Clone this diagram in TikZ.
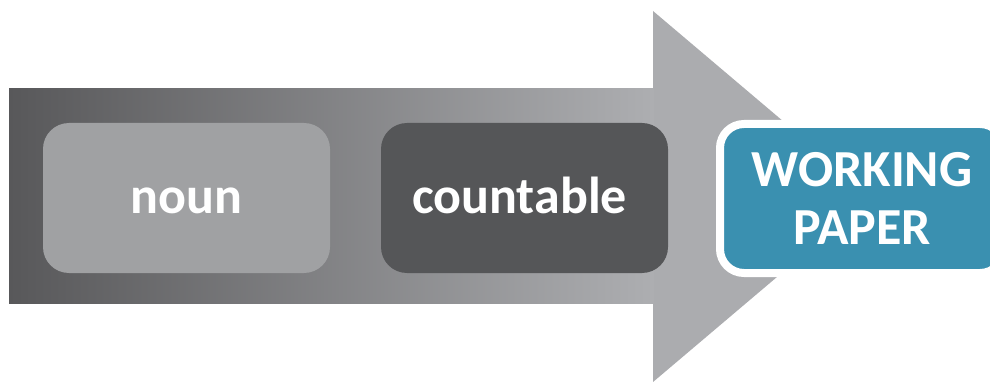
\documentclass[tikz,border=0pt]{standalone}
\usepackage{fontspec}
\setmainfont{Carlito}
\definecolor{gradL}{HTML}{58585A}
\definecolor{gradR}{HTML}{ADAEB1}
\definecolor{headC}{HTML}{ABACAF}
\definecolor{lightbox}{HTML}{A0A1A3}
\definecolor{darkbox}{HTML}{555658}
\definecolor{tealbox}{HTML}{3A90B0}
\begin{document}
\begin{tikzpicture}[x=1pt,y=-1pt,
  boxstyle/.style={rounded corners=26pt, inner sep=0pt, minimum width=287pt, minimum height=150pt,
    text=white, font=\bfseries\fontsize{52}{58}\selectfont, text height=30pt, text depth=0pt},
  goalstyle/.style={rounded corners=24pt, inner sep=0pt, minimum width=284pt, minimum height=149pt,
    fill=tealbox, draw=white, line width=8pt, text=white, align=center,
    font=\bfseries\fontsize{52}{58}\selectfont}]
\useasboundingbox (0,0) rectangle (990,382);
\fill[white] (0,0) rectangle (990,382);
% arrow head
\fill[headC] (653,89) -- (653,11) -- (872,196.5) -- (653,382) -- (653,303) -- cycle;
% arrow body with gradient
\shade[left color=gradL, right color=gradR] (9,89) rectangle (653.5,303);
\node[boxstyle, fill=lightbox] (noun) at (186.5,198) {noun};
\node[boxstyle, fill=darkbox] (countable) at (524.5,198) {countable\kern10pt};
\node[goalstyle] (working) at (862,198.5) {WORKING\\PAPER};
\end{tikzpicture}
\end{document}
